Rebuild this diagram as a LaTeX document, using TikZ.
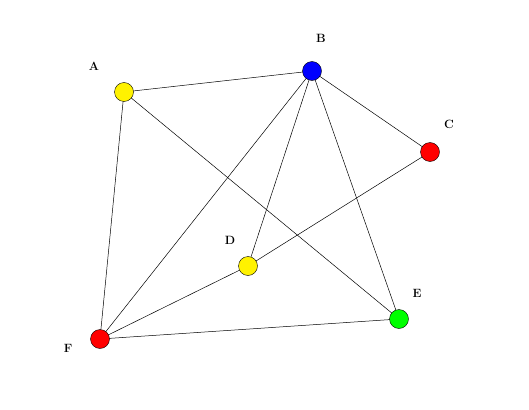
\documentclass[tikz,border=0pt]{standalone}
\usepackage{tikz}
\begin{document}
\begin{tikzpicture}[x=1pt,y=-1pt]
  \tikzset{vertex/.style={circle,draw=black,inner sep=0pt,minimum size=19pt},
           vlabel/.style={font=\large\bfseries}}
  \useasboundingbox (0,0) rectangle (529,409);
  \coordinate (A) at (124,92);
  \coordinate (B) at (312,71);
  \coordinate (C) at (430,152);
  \coordinate (D) at (248,266);
  \coordinate (E) at (399,319);
  \coordinate (F) at (100,339);
  \foreach \u/\v in {A/B,A/F,A/E,B/C,B/D,B/E,B/F,C/D,D/F,E/F}
    \draw[line width=0.5pt] (\u)--(\v);
  \foreach \p/\c in {A/yellow,B/blue,C/red,D/yellow,E/green,F/red}
    \node[vertex,fill=\c] (n\p) at (\p) {};
  \foreach \p/\x/\y in {A/94/66,B/321/38,C/449/124,D/230/240,E/417/293,F/68/348}
    \node[vlabel] (l\p) at (\x,\y) {\p};
\end{tikzpicture}
\end{document}
